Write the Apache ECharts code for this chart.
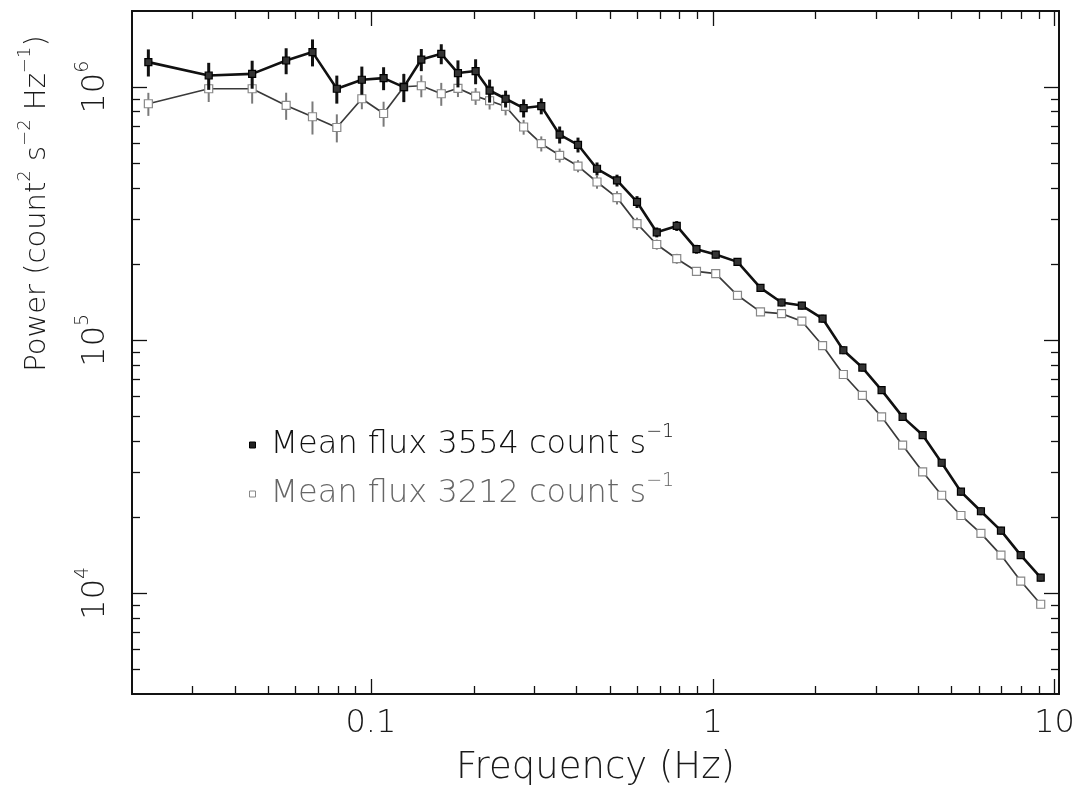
<!DOCTYPE html>
<html><head><meta charset="utf-8">
<script src="https://cdn.jsdelivr.net/npm/echarts@6/dist/echarts.min.js"></script>
<style>html,body{margin:0;padding:0;background:#fff}#c{width:1082px;height:792px}</style>
</head><body><div id="c"></div>
<script>
// ---- data ----
const freq = [0.02233,0.03353,0.04493,0.05649,0.06745,0.07947,0.09406,0.1089,0.1248,0.1404,0.1606,0.1797,
  0.2024,0.2224,0.2477,0.2797,0.3150,0.3565,0.4034,0.4585,0.5246,0.6003,0.6857,0.7845,
  0.8960,1.020,1.181,1.379,1.589,1.822,2.095,2.410,2.739,3.118,3.592,4.111,
  4.673,5.321,6.088,6.967,7.958,9.106];
const powerHigh = [1.256e6,1.112e6,1.129e6,1.275e6,1.376e6,9.86e5,1.070e6,1.086e6,1.000e6,1.286e6,1.355e6,1.137e6,
  1.158e6,9.70e5,9.00e5,8.27e5,8.42e5,6.49e5,5.92e5,4.76e5,4.28e5,3.52e5,2.67e5,2.83e5,
  2.29e5,2.18e5,2.04e5,1.61e5,1.41e5,1.371e5,1.218e5,9.13e4,7.80e4,6.35e4,4.98e4,4.22e4,
  3.28e4,2.52e4,2.11e4,1.769e4,1.416e4,1.153e4];
const errHigh = [1.54e5,1.36e5,1.43e5,1.50e5,1.68e5,1.25e5,1.36e5,1.13e5,1.27e5,1.29e5,1.23e5,1.39e5,
  1.31e5,1.01e5,6.9e4,6.8e4,6.1e4,5.0e4,4.0e4,2.8e4,2.3e4,1.9e4,1.2e4,1.27e4,
  9.2e3,7.6e3,7.1e3,5.6e3,4.9e3,4.8e3,4.3e3,3.2e3,2.7e3,2.2e3,1.7e3,1.5e3,
  1.1e3,880,740,620,500,400];
const powerLow = [8.60e5,9.86e5,9.86e5,8.47e5,7.64e5,6.93e5,9.00e5,7.87e5,1.004e6,1.013e6,9.42e5,9.90e5,
  9.22e5,8.84e5,8.39e5,6.96e5,5.98e5,5.38e5,4.88e5,4.22e5,3.66e5,2.89e5,2.39e5,2.10e5,
  1.872e5,1.833e5,1.505e5,1.294e5,1.274e5,1.189e5,9.53e4,7.32e4,6.06e4,4.98e4,3.85e4,3.02e4,
  2.44e4,2.03e4,1.725e4,1.416e4,1.118e4,9.05e3];
const errLow = [9.0e4,1.12e5,1.25e5,1.04e5,1.14e5,8.8e4,8.2e4,8.9e4,1.27e5,1.01e5,9.8e4,7.6e4,
  7.1e4,6.8e4,6.5e4,4.7e4,4.1e4,3.4e4,2.7e4,2.5e4,2.2e4,1.6e4,1.1e4,9.5e3,
  6.6e3,6.4e3,5.3e3,4.5e3,4.5e3,4.2e3,3.3e3,2.6e3,2.1e3,1.7e3,1.3e3,1.1e3,
  850,710,600,500,390,320];
const seriesNames = ['Mean flux 3554 count s', 'Mean flux 3212 count s'];
const xMajorTicks = [0.1, 1, 10];
const xMinorTicks = [0.03,0.04,0.05,0.06,0.07,0.08,0.09,0.2,0.3,0.4,0.5,0.6,0.7,0.8,0.9,2,3,4,5,6,7,8,9];
const yMajorTicks = [1e4, 1e5, 1e6];
const yMinorTicks = [5e3,6e3,7e3,8e3,9e3,2e4,3e4,4e4,5e4,6e4,7e4,8e4,9e4,2e5,3e5,4e5,5e5,6e5,7e5,8e5,9e5];
const xRange = [0.02, 10.3];
const yRange = [4000, 2.0e6];
const xTitle = 'Frequency (Hz)';
const yTitle = 'Power (count{sup|2} s{sup|\u22122} Hz{sup|\u22121})';

// ---- styling ----
const FONT = 'DejaVu Sans';
const TXT = '#1a1a1a';
const supRich = { sup: { fontSize: 19, lineHeight: 20, verticalAlign: 'top', fontFamily: FONT, fontWeight: 200 } };

function xAxisDef(pos, ticks, len, labels) {
  return {
    type: 'log', position: pos, min: xRange[0], max: xRange[1],
    axisLine: { show: true, lineStyle: { color: '#111', width: 1.6 } },
    splitLine: { show: false },
    axisTick: { show: true, inside: true, length: len, customValues: ticks, lineStyle: { color: '#111', width: 1.3 } },
    axisLabel: labels ? {
      show: true, customValues: ticks, margin: 14, color: TXT, fontFamily: FONT, fontWeight: 200, fontSize: 32,
      formatter: v => String(v)
    } : { show: false },
    name: labels ? xTitle : '', nameLocation: 'middle', nameGap: 56,
    nameTextStyle: { color: TXT, fontFamily: FONT, fontWeight: 200, fontSize: 37 }
  };
}
function yAxisDef(pos, ticks, len, labels) {
  return {
    type: 'log', position: pos, min: yRange[0], max: yRange[1],
    axisLine: { show: true, lineStyle: { color: '#111', width: 1.6 } },
    splitLine: { show: false },
    axisTick: { show: true, inside: true, length: len, customValues: ticks, lineStyle: { color: '#111', width: 1.3 } },
    axisLabel: labels ? {
      show: true, customValues: ticks, margin: 14, rotate: 90, color: TXT, fontFamily: FONT, fontWeight: 200, fontSize: 32,
      lineHeight: 44, align: 'center', verticalAlign: 'bottom',
      formatter: v => '10{sup|' + Math.round(Math.log10(v)) + '}', rich: supRich
    } : { show: false },
    name: labels ? yTitle : '',
    nameLocation: 'middle', nameGap: 74, nameRotate: 90,
    nameTextStyle: { color: TXT, fontFamily: FONT, fontWeight: 200, fontSize: 29, lineHeight: 42,
      padding: [0, 0, 0, 298], rich: { sup: { fontSize: 18, lineHeight: 18, verticalAlign: 'top', fontFamily: FONT, fontWeight: 200 } } }
  };
}

function errSeries(p, e, color, width, z) {
  return {
    type: 'custom', xAxisIndex: 0, yAxisIndex: 0, z: z, silent: true,
    data: freq.map((f, i) => [f, p[i] - e[i], p[i] + e[i]]),
    encode: { x: 0, y: [1, 2] },
    renderItem: function (params, api) {
      const a = api.coord([api.value(0), api.value(1)]);
      const b = api.coord([api.value(0), api.value(2)]);
      return { type: 'line', shape: { x1: a[0], y1: a[1], x2: b[0], y2: b[1] },
        style: { stroke: color, lineWidth: width } };
    }
  };
}

const chart = echarts.init(document.getElementById('c'), null, { renderer: 'canvas' });
chart.setOption({
  animation: false,
  backgroundColor: '#fff',
  grid: { left: 132, right: 23, top: 11, bottom: 95, show: true, borderColor: '#111', borderWidth: 1.6, containLabel: false },
  xAxis: [
    xAxisDef('bottom', xMajorTicks, 15, true),
    xAxisDef('bottom', xMinorTicks, 8, false),
    xAxisDef('top', xMajorTicks, 15, false),
    xAxisDef('top', xMinorTicks, 8, false)
  ],
  yAxis: [
    yAxisDef('left', yMajorTicks, 15, true),
    yAxisDef('left', yMinorTicks, 8, false),
    yAxisDef('right', yMajorTicks, 15, false),
    yAxisDef('right', yMinorTicks, 8, false)
  ],
  legend: {
    orient: 'vertical', left: 244, top: 418, itemGap: 5, itemWidth: 6, itemHeight: 6,
    selectedMode: false,
    data: [
      { name: seriesNames[0], icon: 'rect', itemStyle: { color: '#222', borderColor: '#000', borderWidth: 1 }, textStyle: { color: '#111' } },
      { name: seriesNames[1], icon: 'rect', itemStyle: { color: '#fff', borderColor: '#888', borderWidth: 1 }, textStyle: { color: '#666' } }
    ],
    formatter: name => name + '{sup|\u22121}',
    textStyle: { fontFamily: FONT, fontWeight: 200, fontSize: 32, lineHeight: 44, padding: [0, 0, 0, 10], rich: supRich }
  },
  series: [
    errSeries(powerLow, errLow, '#7a7a7a', 2, 1),
    {
      name: seriesNames[1], type: 'line', xAxisIndex: 0, yAxisIndex: 0, z: 2,
      data: freq.map((f, i) => [f, powerLow[i]]),
      symbol: 'rect', symbolSize: 8, showSymbol: true,
      lineStyle: { color: '#3a3a3a', width: 1.7 },
      itemStyle: { color: '#fff', borderColor: '#888', borderWidth: 1.2 }
    },
    errSeries(powerHigh, errHigh, '#111', 3, 3),
    {
      name: seriesNames[0], type: 'line', xAxisIndex: 0, yAxisIndex: 0, z: 4,
      data: freq.map((f, i) => [f, powerHigh[i]]),
      symbol: 'rect', symbolSize: 7, showSymbol: true,
      lineStyle: { color: '#111', width: 2.6 },
      itemStyle: { color: '#333', borderColor: '#000', borderWidth: 1.2 }
    }
  ]
});
</script></body></html>
